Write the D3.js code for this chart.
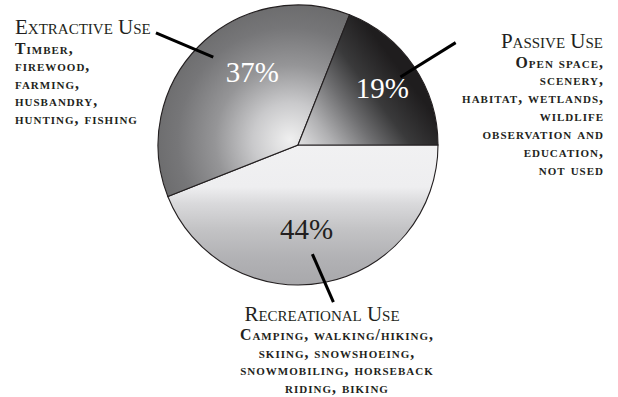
<!DOCTYPE html>
<html><head><meta charset="utf-8">
<script src="https://cdn.jsdelivr.net/npm/d3@7"></script>
<style>
html,body{margin:0;padding:0;background:#fff;}
svg{display:block;}
</style></head>
<body>
<svg id="chart" width="618" height="397"></svg>
<script>
// Data (drawing order: clockwise from 3 o'clock)
const categories = ["Recreational Use", "Extractive Use", "Passive Use"];
const values = [44, 37, 19];
const percentLabels = ["44%", "37%", "19%"];
const recreationalLines = ["Camping, walking/hiking,", "skiing, snowshoeing,", "snowmobiling, horseback", "riding, biking"];
const extractiveLines = ["Timber,", "firewood,", "farming,", "husbandry,", "hunting, fishing"];
const passiveLines = ["Open space,", "scenery,", "habitat, wetlands,", "wildlife", "observation and", "education,", "not used"];

const FONT = "'Liberation Serif', 'Times New Roman', serif";
const svg = d3.select("#chart");
const cx = 298, cy = 145, R = 140;
const deg = Math.PI / 180;

// gradients (coordinates relative to pie centre)
const defs = svg.append("defs");
const gRec = defs.append("linearGradient").attr("id", "gRec")
  .attr("gradientUnits", "userSpaceOnUse")
  .attr("x1", 0).attr("y1", 0).attr("x2", 0).attr("y2", R);
[[0, "#f1f1f2"], [0.3, "#eeeef0"], [0.42, "#d9d9db"], [0.6, "#c3c3c5"], [0.8, "#b2b2b5"], [1, "#a8a8ab"]].forEach(([o, c]) =>
  gRec.append("stop").attr("offset", o).attr("stop-color", c));
const gExt = defs.append("radialGradient").attr("id", "gExt")
  .attr("gradientUnits", "userSpaceOnUse")
  .attr("cx", -8).attr("cy", -5).attr("r", 150);
[[0, "#f0f0f0"], [0.25, "#c9c9cb"], [0.5, "#959597"], [0.75, "#767678"], [1, "#666667"]].forEach(([o, c]) =>
  gExt.append("stop").attr("offset", o).attr("stop-color", c));
const gPas = defs.append("linearGradient").attr("id", "gPas")
  .attr("gradientUnits", "userSpaceOnUse")
  .attr("x1", 0).attr("y1", 5).attr("x2", 104).attr("y2", -73);
[[0, "#e6e6e7"], [0.25, "#b0b0b2"], [0.5, "#6e6e70"], [0.72, "#3a3a3b"], [1, "#1f1d1e"]].forEach(([o, c]) =>
  gPas.append("stop").attr("offset", o).attr("stop-color", c));
const fills = ["url(#gRec)", "url(#gExt)", "url(#gPas)"];

const pie = d3.pie().sort(null).value(d => d)
  .startAngle(Math.PI / 2).endAngle(Math.PI / 2 + 2 * Math.PI);
const arcs = pie(values);
const arc = d3.arc().innerRadius(0).outerRadius(R);

const g = svg.append("g").attr("transform", `translate(${cx},${cy})`);
g.selectAll("path.slice").data(arcs).enter().append("path")
  .attr("class", "slice")
  .attr("d", arc)
  .attr("fill", (d, i) => fills[i])
  .attr("stroke", "#231f20").attr("stroke-width", 1.1).attr("stroke-linejoin", "miter");

// percent labels
const labelRadius = [84, 86, 102];
const labelShift = [5, 13, 0];
const labelColor = ["#231f20", "#ffffff", "#ffffff"];
g.selectAll("text.pct").data(arcs).enter().append("text")
  .attr("class", "pct")
  .attr("x", (d, i) => { const a = (d.startAngle + d.endAngle) / 2 + labelShift[i] * deg; return labelRadius[i] * Math.sin(a); })
  .attr("y", (d, i) => { const a = (d.startAngle + d.endAngle) / 2 + labelShift[i] * deg; return -labelRadius[i] * Math.cos(a) + 10; })
  .attr("text-anchor", "middle")
  .attr("font-family", FONT)
  .attr("font-size", 29)
  .attr("fill", (d, i) => labelColor[i])
  .text((d, i) => percentLabels[i]);

// leader lines (polar: angle clockwise from north, radii)
const leaders = [[172.5, 110, 167.3, 161], [316, 122, 308.3, 181], [56.4, 123, 57, 188]];
leaders.forEach(([a1, r1, a2, r2]) => {
  g.append("line")
    .attr("x1", r1 * Math.sin(a1 * deg)).attr("y1", -r1 * Math.cos(a1 * deg))
    .attr("x2", r2 * Math.sin(a2 * deg)).attr("y2", -r2 * Math.cos(a2 * deg))
    .attr("stroke", "#000").attr("stroke-width", 3);
});

// category labels
function block(title, lines, x, anchor, titleY, firstY, step, bodyX) {
  svg.append("text").attr("x", x).attr("y", titleY).attr("text-anchor", anchor)
    .attr("font-family", FONT).attr("font-size", 21).attr("fill", "#231f20")
    .style("font-variant", "small-caps").text(title);
  lines.forEach((t, i) => {
    svg.append("text").attr("x", bodyX).attr("y", firstY + i * step).attr("text-anchor", anchor)
      .attr("font-family", FONT).attr("font-size", 15.8).attr("font-weight", "bold").attr("fill", "#231f20")
      .attr("letter-spacing", 1)
      .style("font-variant", "small-caps")
      .text(t);
  });
}
block(categories[1], extractiveLines, 15, "start", 34, 53.5, 17.6, 15);
block(categories[2], passiveLines, 603, "end", 47.5, 67.5, 17.9, 604);
block(categories[0], recreationalLines, 322, "middle", 321, 340, 17.6, 337);
</script>
</body></html>
